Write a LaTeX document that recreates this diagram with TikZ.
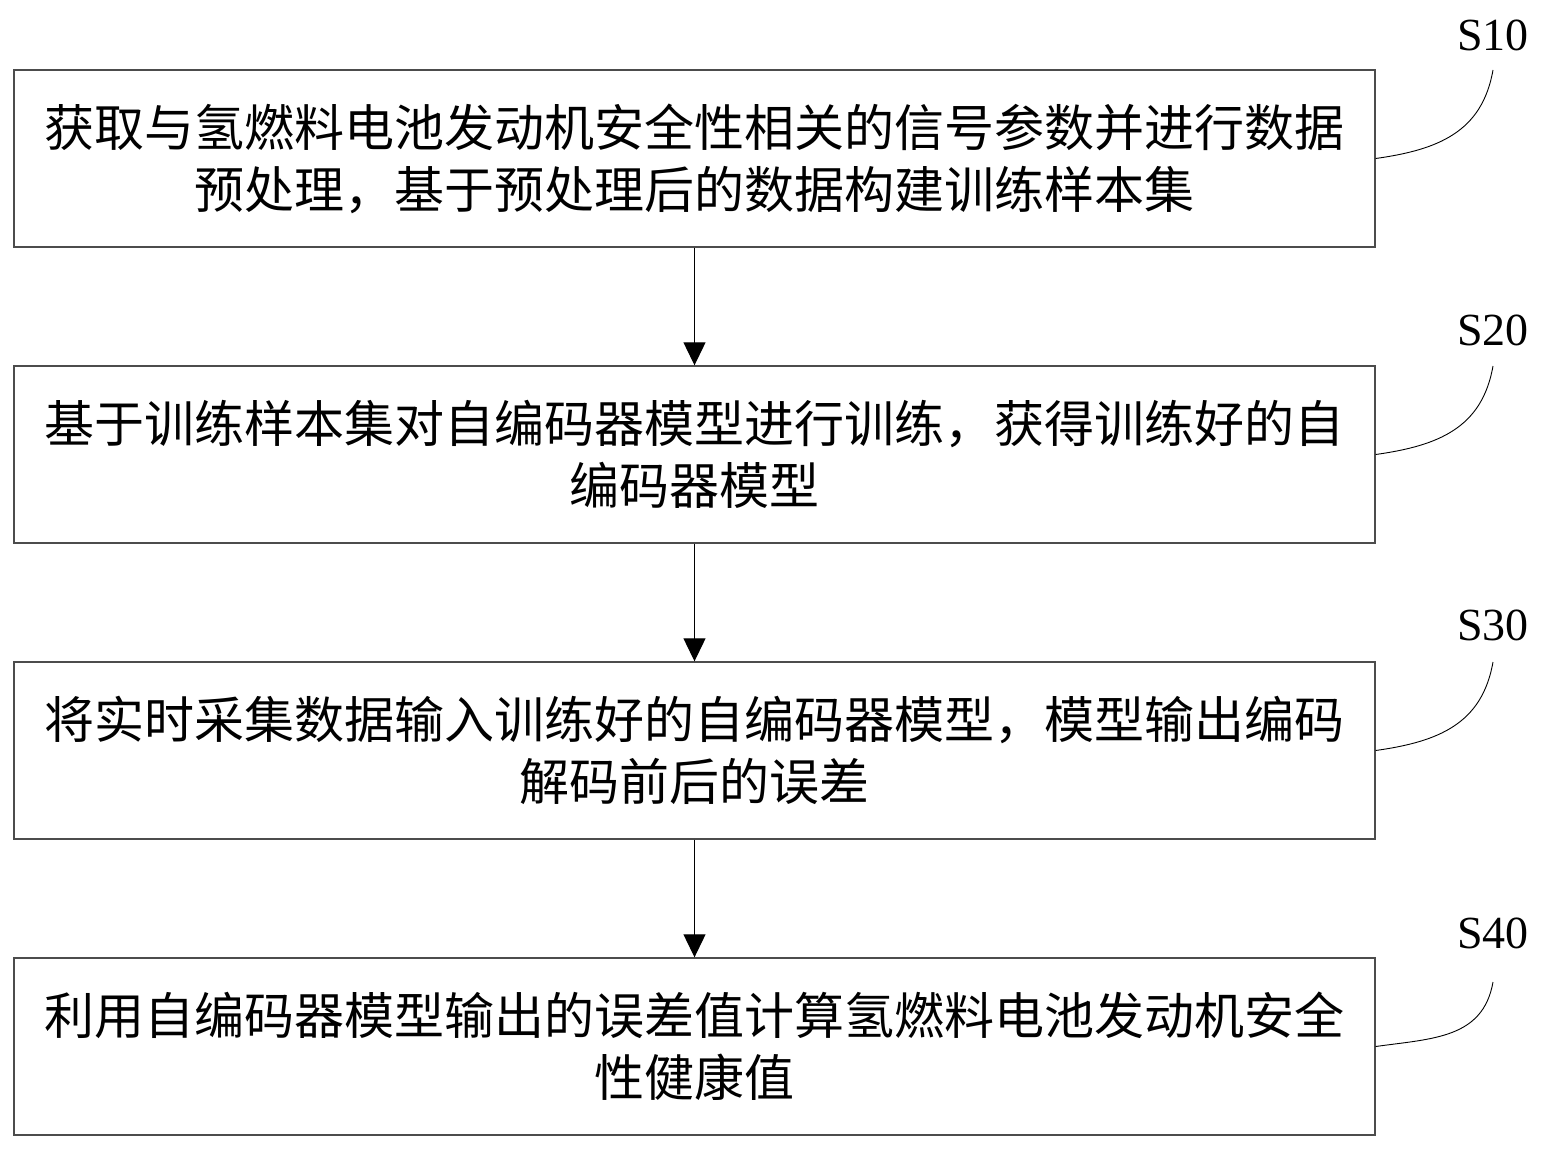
\documentclass[tikz,border=0pt]{standalone}
\usepackage{fontspec}
\setmainfont{Liberation Serif}
\newfontfamily\cjk{Noto Sans CJK SC}
\usepackage{tikz}
\usetikzlibrary{positioning,arrows.meta}

\begin{document}
\begin{tikzpicture}[x=1pt,y=-1pt,
		caja/.style={draw=black!70,line width=1.4pt,minimum width=1361pt,minimum height=177pt,
			text width=1340pt,align=center,inner sep=0pt,
			font=\cjk\fontsize{50pt}{62pt}\selectfont},
		paso/.style={inner sep=0pt,font=\fontsize{46pt}{50pt}\selectfont},
		flecha/.style={line width=1.2pt,-{Triangle[length=23pt,width=22pt]}},
		curva/.style={line width=0.9pt,out=8,in=-100,looseness=1.1}]
				\useasboundingbox (0,0) rectangle (1545,1151);
				% Cajas
				\node[caja] (b1) at (694.5,158.5) {获取与氢燃料电池发动机安全性相关的信号参数并进行数据\\预处理，基于预处理后的数据构建训练样本集};
				\node[caja,below=117.6pt of b1] (b2) {基于训练样本集对自编码器模型进行训练，获得训练好的自\\编码器模型};
				\node[caja,below=117.6pt of b2] (b3) {将实时采集数据输入训练好的自编码器模型，模型输出编码\\解码前后的误差};
				\node[caja,below=117.6pt of b3] (b4) {利用自编码器模型输出的误差值计算氢燃料电池发动机安全\\性健康值};

				% Flechas
				\draw[flecha] (b1) -- (b2);
				\draw[flecha] (b2) -- (b3);
				\draw[flecha] (b3) -- (b4);

				% Etiquetas
				\coordinate (e1) at (1493,70);
				\coordinate (e2) at (1493,366);
				\coordinate (e3) at (1493,662);
				\coordinate (e4) at (1493,982);
				\node[paso] (s1) at (1493,35) {S10};
				\node[paso] (s2) at (1493,330) {S20};
				\node[paso] (s3) at (1493,625) {S30};
				\node[paso] (s4) at (1493,933) {S40};

				\draw[curva] (b1.east) to (e1);
				\draw[curva] (b2.east) to (e2);
				\draw[curva] (b3.east) to (e3);
				\draw[curva] (b4.east) to (e4);
			\end{tikzpicture}
\end{document}
